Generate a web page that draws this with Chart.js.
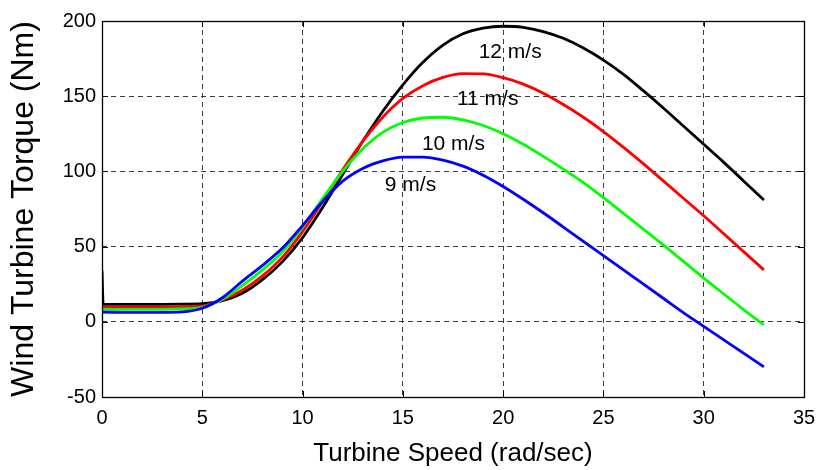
<!DOCTYPE html>
<html><head><meta charset="utf-8">
<script src="https://cdn.jsdelivr.net/npm/chart.js@4.4.0/dist/chart.umd.min.js"></script>
<style>html,body{margin:0;padding:0;background:#fff}#wrap{width:819px;height:470px}</style>
</head><body><div id="wrap"><canvas id="c" width="819" height="470"></canvas></div>
<script>
// Turbine speed (rad/sec)
const speeds = [0, 0.06, 1, 2, 3, 4, 5, 6, 7, 8, 9, 10, 11, 12, 13, 14, 15, 16, 17, 18, 19, 20, 21, 22, 23, 24, 25, 26, 27, 28, 29, 30, 31, 32, 33];
// Wind turbine torque (Nm) per wind speed
const torque12 = [34, 11.6, 11.6, 11.6, 11.6, 11.7, 12, 14, 19, 28, 40, 56, 76, 98, 120, 140, 157.5, 172.5, 184, 191.5, 195.3, 196.5, 195.8, 193, 188.5, 182, 174, 164.5, 153.5, 142, 130, 118, 106, 93.5, 81];
const torque11 = [9.8, 9.8, 9.8, 9.8, 9.8, 10, 10.5, 14.5, 21, 30.5, 43, 60, 80, 101, 120, 136, 148.5, 157, 162.5, 165, 164.8, 162.3, 158, 152, 144.5, 136, 126.5, 116, 105, 93.5, 82, 70.5, 58.5, 46.5, 34.5];
const torque10 = [8.3, 8.3, 8.3, 8.3, 8.3, 8.6, 9.6, 15, 24, 34.5, 46.5, 63, 82, 100, 115, 126, 132.5, 135.5, 136, 134.3, 130.5, 125, 118, 110, 101.5, 92.5, 82.5, 72, 61.5, 51, 40, 29, 18.5, 8, -2];
const torque9 = [6.4, 6.4, 6.3, 6.3, 6.3, 6.6, 9, 16, 27, 37.5, 49, 64, 80, 93.5, 102, 107, 109.5, 109.5, 107.5, 103.5, 97.5, 90, 81.5, 72.5, 63, 53.5, 44, 34.5, 25, 15.5, 6, -3, -12, -21, -30];

const seriesNames = ['12 m/s', '11 m/s', '10 m/s', '9 m/s'];
const seriesColors = ['#000000', '#ff0000', '#00ff00', '#0000ff'];
const seriesData = [torque12, torque11, torque10, torque9];
// label anchor positions in data units (speed, torque)
const labelSpeed = [20.35, 19.23, 17.52, 15.38];
const labelTorque = [179, 148, 118, 91];

const xTicks = [0, 5, 10, 15, 20, 25, 30, 35];
const yTicks = [-50, 0, 50, 100, 150, 200];

const FONT = "'Liberation Sans', Arial, Helvetica, sans-serif";

const datasets = seriesData.map((vals, i) => ({
  label: seriesNames[i],
  data: speeds.map((s, k) => ({x: s, y: vals[k]})),
  borderColor: seriesColors[i],
  backgroundColor: seriesColors[i],
  borderWidth: 2.8,
  pointRadius: 0,
  cubicInterpolationMode: 'monotone',
  fill: false,
  order: 3 - i
}));

const frame = {
  id: 'frame',
  afterDatasetsDraw(chart) {
    const {ctx, chartArea: a, scales} = chart;
    ctx.save();
    // inner tick marks
    ctx.strokeStyle = '#000';
    ctx.lineWidth = 1;
    ctx.beginPath();
    xTicks.forEach(v => {
      const px = Math.round(scales.x.getPixelForValue(v)) + 0.5;
      ctx.moveTo(px, a.bottom); ctx.lineTo(px, a.bottom - 6);
      ctx.moveTo(px, a.top); ctx.lineTo(px, a.top + 6);
    });
    yTicks.forEach(v => {
      const py = Math.round(scales.y.getPixelForValue(v)) + 0.5;
      ctx.moveTo(a.left, py); ctx.lineTo(a.left + 6, py);
      ctx.moveTo(a.right, py); ctx.lineTo(a.right - 6, py);
    });
    ctx.stroke();
    // box
    ctx.lineWidth = 1.3;
    ctx.strokeRect(Math.round(a.left) + 0.5, Math.round(a.top) + 0.5, Math.round(a.right - a.left), Math.round(a.bottom - a.top));
    // series labels
    ctx.fillStyle = '#000';
    ctx.font = '21px ' + FONT;
    ctx.textAlign = 'center';
    ctx.textBaseline = 'middle';
    seriesNames.forEach((n, i) => {
      ctx.fillText(n, scales.x.getPixelForValue(labelSpeed[i]), scales.y.getPixelForValue(labelTorque[i]));
    });
    ctx.restore();
  }
};

new Chart(document.getElementById('c'), {
  type: 'line',
  data: {datasets},
  options: {
    responsive: false,
    animation: false,
    devicePixelRatio: 1,
    layout: {padding: {left: 0, right: 15, top: 21, bottom: 0}},
    plugins: {legend: {display: false}, tooltip: {enabled: false}},
    scales: {
      x: {
        type: 'linear', min: 0, max: 35,
        afterBuildTicks: s => { s.ticks = xTicks.map(v => ({value: v})); },
        afterFit: s => { s.height = 73; s.paddingLeft = 5; s.paddingRight = 5; },
        ticks: {color: '#000', font: {family: FONT, size: 20}, padding: 9, maxRotation: 0, autoSkip: false},
        grid: {color: '#3a3a3a', lineWidth: 1, drawTicks: false, tickLength: 0},
        border: {display: false, dash: [5, 4]},
        title: {display: true, text: 'Turbine Speed (rad/sec)', color: '#000', font: {family: FONT, size: 26}, padding: {top: 0, bottom: 1}}
      },
      y: {
        type: 'linear', min: -50, max: 200,
        afterBuildTicks: s => { s.ticks = yTicks.map(v => ({value: v})); },
        afterFit: s => { s.width = 102; },
        ticks: {color: '#000', font: {family: FONT, size: 20}, padding: 6, autoSkip: false},
        grid: {color: '#3a3a3a', lineWidth: 1, drawTicks: false, tickLength: 0},
        border: {display: false, dash: [5, 4]},
        title: {display: true, text: 'Wind Turbine Torque (Nm)', color: '#000', font: {family: FONT, size: 32}, padding: {top: 5, bottom: 0}}
      }
    }
  },
  plugins: [frame]
});
</script>
</body></html>
